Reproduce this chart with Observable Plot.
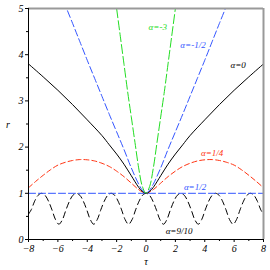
<!DOCTYPE html>
<html>
<head>
<meta charset="utf-8">
<script src="https://cdn.jsdelivr.net/npm/d3@7"></script>
<script src="https://cdn.jsdelivr.net/npm/@observablehq/plot@0.6"></script>
<style>
  html, body { margin: 0; padding: 0; background: #fff; }
</style>
</head>
<body>
<div id="chart"></div>
<script>
// α = -3
const tauAm3 = [-2.1, -2.0, -1.75, -1.5, -1.25, -1, -0.75, -0.5, -0.25, 0, 0.25, 0.5, 0.75, 1, 1.25, 1.5, 1.75, 2.0, 2.1];
const rAm3   = [5.25, 5.0, 4.4, 3.8, 3.2, 2.65, 2.1, 1.55, 1.15, 1.0, 1.15, 1.55, 2.1, 2.65, 3.2, 3.8, 4.4, 5.0, 5.25];
// α = -1/2
const tauAm12 = [-5.6, -5, -4.5, -4, -3.5, -3, -2.5, -2, -1.5, -1, -0.5, -0.25, 0, 0.25, 0.5, 1, 1.5, 2, 2.5, 3, 3.5, 4, 4.5, 5, 5.6];
const rAm12   = [5.15, 4.68, 4.28, 3.88, 3.49, 3.1, 2.71, 2.33, 1.95, 1.55, 1.2, 1.07, 1.0, 1.07, 1.2, 1.55, 1.95, 2.33, 2.71, 3.1, 3.49, 3.88, 4.28, 4.68, 5.15];
// α = 0
const tauA0 = [-8, -7, -6, -5, -4, -3, -2.5, -2, -1.5, -1, -0.5, -0.25, 0, 0.25, 0.5, 1, 1.5, 2, 2.5, 3, 4, 5, 6, 7, 8];
const rA0   = [3.80, 3.52, 3.23, 2.92, 2.59, 2.25, 2.05, 1.85, 1.63, 1.38, 1.13, 1.04, 1.0, 1.04, 1.13, 1.38, 1.63, 1.85, 2.05, 2.25, 2.59, 2.92, 3.23, 3.52, 3.80];
// α = 1/4
const tauA14 = [-8, -7.5, -7, -6.5, -6, -5.5, -5, -4.5, -4, -3.5, -3, -2.5, -2, -1.5, -1, -0.5, -0.25, 0, 0.25, 0.5, 1, 1.5, 2, 2.5, 3, 3.5, 4, 4.5, 5, 5.5, 6, 6.5, 7, 7.5, 8];
const rA14   = [1.12, 1.26, 1.39, 1.51, 1.61, 1.67, 1.71, 1.73, 1.725, 1.70, 1.65, 1.58, 1.48, 1.36, 1.22, 1.08, 1.03, 1.0, 1.03, 1.08, 1.22, 1.36, 1.48, 1.58, 1.65, 1.70, 1.725, 1.73, 1.71, 1.67, 1.61, 1.51, 1.39, 1.26, 1.12];
// α = 1/2
const tauA12 = [-8, 8];
const rA12   = [1, 1];
// α = 9/10
const tauA910 = [-8.0, -7.82, -7.58, -7.35, -7.11, -6.87, -6.64, -6.40, -6.16, -5.93, -5.69, -5.45, -5.21, -4.98, -4.74, -4.50, -4.27, -4.03, -3.79, -3.56, -3.32, -3.08, -2.84, -2.61, -2.37, -2.13, -1.90, -1.66, -1.42, -1.19, -0.95, -0.71, -0.47, -0.24,
  0, 0.24, 0.47, 0.71, 0.95, 1.19, 1.42, 1.66, 1.90, 2.13, 2.37, 2.61, 2.84, 3.08, 3.32, 3.56, 3.79, 4.03, 4.27, 4.50, 4.74, 4.98, 5.21, 5.45, 5.69, 5.93, 6.16, 6.40, 6.64, 6.87, 7.11, 7.35, 7.58, 7.82, 8.0];
const rA910 = [0.55, 0.64, 0.83, 0.956, 1.0, 0.956, 0.83, 0.64, 0.43, 0.33, 0.43, 0.64, 0.83, 0.956, 1.0, 0.956, 0.83, 0.64, 0.43, 0.33, 0.43, 0.64, 0.83, 0.956, 1.0, 0.956, 0.83, 0.64, 0.43, 0.33, 0.43, 0.64, 0.83, 0.956,
  1.0, 0.956, 0.83, 0.64, 0.43, 0.33, 0.43, 0.64, 0.83, 0.956, 1.0, 0.956, 0.83, 0.64, 0.43, 0.33, 0.43, 0.64, 0.83, 0.956, 1.0, 0.956, 0.83, 0.64, 0.43, 0.33, 0.43, 0.64, 0.83, 0.956, 1.0, 0.956, 0.83, 0.64, 0.55];

// Labels
const labelTexts = ["α=-3", "α=-1/2", "α=0", "α=1/4", "α=1/2", "α=9/10"];
const labelTau   = [0.8, 3.2, 6.27, 4.5, 3.34, 2.25];
const labelR     = [4.59, 4.2, 3.78, 1.87, 1.13, 0.18];
const labelColors = ["#22dd22", "#3355ff", "#000000", "#ff3311", "#3355ff", "#000000"];

const xTicks = [-8, -6, -4, -2, 0, 2, 4, 6, 8];
const xMinor = [-7, -5, -3, -1, 1, 3, 5, 7];
const yTicks = [0, 1, 2, 3, 4, 5];
const yMinor = [0.5, 1.5, 2.5, 3.5, 4.5];

const toRows = (ts, rs) => ts.map((t, i) => ({tau: t, r: rs[i]}));

const series = [
  {rows: toRows(tauA910, rA910), color: "#000000", dash: "6,4", curve: "catmull-rom"},
  {rows: toRows(tauA12, rA12), color: "#3355ff", dash: "7,3"},
  {rows: toRows(tauA14, rA14), color: "#ff3311", dash: "5,3", curve: "catmull-rom"},
  {rows: toRows(tauA0, rA0), color: "#000000", dash: null, curve: "catmull-rom"},
  {rows: toRows(tauAm12, rAm12), color: "#3355ff", dash: "7,3", curve: "catmull-rom"},
  {rows: toRows(tauAm3, rAm3), color: "#22dd22", dash: "9,3", curve: "catmull-rom"}
];

const labels = labelTexts.map((t, i) => ({text: t, tau: labelTau[i], r: labelR[i], color: labelColors[i]}));

const serif = "'Liberation Serif', 'DejaVu Serif', serif";
const fmt = d3.format("d");

const chart = Plot.plot({
  width: 270,
  height: 270,
  marginLeft: 28,
  marginRight: 7,
  marginTop: 8,
  marginBottom: 31,
  style: {fontFamily: serif, fontStyle: "italic", fontSize: "10px", background: "#fff", color: "#000"},
  x: {domain: [-8, 8]},
  y: {domain: [0, 5]},
  marks: [
    ...series.map(s => Plot.line(s.rows, {
      x: "tau", y: "r", stroke: s.color, strokeWidth: 1,
      strokeDasharray: s.dash || undefined, curve: s.curve || "linear", clip: true
    })),
    Plot.ruleY([5], {stroke: "#999", strokeWidth: 2}),
    Plot.ruleX([8], {stroke: "#999", strokeWidth: 2}),
    Plot.ruleX([-8], {stroke: "#000", strokeWidth: 1}),
    Plot.ruleY([0], {stroke: "#000", strokeWidth: 1}),
    Plot.axisX({ticks: xTicks, tickSize: 3, tickPadding: 2, tickFormat: fmt, label: null, fontStyle: "italic", fontSize: 10, fontFamily: serif}),
    Plot.axisX({ticks: xMinor, tickSize: 2, tickFormat: () => "", label: null}),
    Plot.axisY({ticks: yTicks, tickSize: 3, tickPadding: 2, tickFormat: fmt, label: null, fontStyle: "italic", fontSize: 10, fontFamily: serif}),
    Plot.axisY({ticks: yMinor, tickSize: 2, tickFormat: () => "", label: null}),
    Plot.text(labels, {x: "tau", y: "r", text: "text", fill: "color", fontSize: 9, fontStyle: "italic", fontFamily: serif})
  ]
});

// axis titles as real text
const svg = d3.select(chart);
svg.append("text").attr("x", 8).attr("y", 128).attr("text-anchor", "middle")
  .attr("font-family", serif).attr("font-style", "italic").attr("font-size", 10).text("r");
svg.append("text").attr("x", 146).attr("y", 265).attr("text-anchor", "middle")
  .attr("font-family", serif).attr("font-style", "italic").attr("font-size", 10).text("τ");

document.getElementById("chart").appendChild(chart);
</script>
</body>
</html>
